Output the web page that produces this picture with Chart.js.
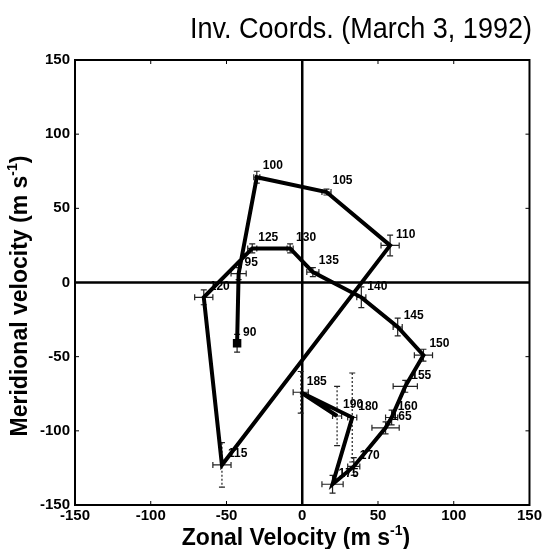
<!DOCTYPE html>
<html>
<head>
<meta charset="utf-8">
<script src="https://cdn.jsdelivr.net/npm/chart.js@4"></script>
<style>
  html, body { margin: 0; padding: 0; background: #fff; }
</style>
</head>
<body>
<canvas id="c" width="544" height="549"></canvas>
<script>
// time labels of each hodograph point
const times = [90, 95, 100, 105, 110, 115, 120, 125, 130, 135, 140, 145, 150, 155, 160, 165, 170, 175, 180, 185, 190];
// zonal (u) and meridional (v) velocity, m/s
const zonal = [-43, -42, -30, 16, 58, -53, -65, -33, -8, 7, 39, 63, 80, 68, 59, 55, 34, 20, 33, -1, 23];
const merid = [-41, 6, 71, 61, 25, -123, -10, 23, 23, 7, -10, -30, -49, -70, -91, -98, -124, -136, -91, -74, -90];
// error bars (half widths)
const zonalErr = [1, 5, 2, 3, 6, 6, 6, 3, 2, 4, 3, 3, 6, 8, 4, 9, 4, 7, 3, 5, 3];
const meridErr = [6, 4, 4, 2, 7, 15, 5, 3, 3, 3, 7, 6, 4, 4, 5, 4, 6, 6, 30, 14, 20];
// axis ticks
const tickValues = [-150, -100, -50, 0, 50, 100, 150];

const FONT = "'Liberation Sans', Arial, Helvetica, sans-serif";

// frame, zero lines and inward tick marks
const framePlugin = {
  id: "frame",
  beforeDatasetsDraw(chart) {
    const { ctx, chartArea: a, scales } = chart;
    ctx.save();
    ctx.strokeStyle = "#000";
    // zero lines
    ctx.lineWidth = 2.5;
    const x0 = scales.x.getPixelForValue(0);
    const y0 = scales.y.getPixelForValue(0);
    ctx.beginPath();
    ctx.moveTo(x0, a.top); ctx.lineTo(x0, a.bottom);
    ctx.moveTo(a.left, y0); ctx.lineTo(a.right, y0);
    ctx.stroke();
    // tick marks
    ctx.lineWidth = 1;
    ctx.beginPath();
    tickValues.forEach((v) => {
      const px = scales.x.getPixelForValue(v);
      const py = scales.y.getPixelForValue(v);
      ctx.moveTo(px, a.bottom); ctx.lineTo(px, a.bottom - 4);
      ctx.moveTo(px, a.top); ctx.lineTo(px, a.top + 4);
      ctx.moveTo(a.left, py); ctx.lineTo(a.left + 4, py);
      ctx.moveTo(a.right, py); ctx.lineTo(a.right - 4, py);
    });
    ctx.stroke();
    // box
    ctx.lineWidth = 2;
    ctx.strokeRect(a.left, a.top, a.right - a.left, a.bottom - a.top);
    ctx.restore();
  },
};

// x / y error bars with caps
const errorBarPlugin = {
  id: "errorBars",
  beforeDatasetsDraw(chart) {
    const { ctx, scales } = chart;
    const cap = 3;
    ctx.save();
    ctx.strokeStyle = "#222";
    ctx.lineWidth = 1.2;
    times.forEach((t, i) => {
      const px = scales.x.getPixelForValue(zonal[i]);
      const py = scales.y.getPixelForValue(merid[i]);
      const xl = scales.x.getPixelForValue(zonal[i] - zonalErr[i]);
      const xr = scales.x.getPixelForValue(zonal[i] + zonalErr[i]);
      const yt = scales.y.getPixelForValue(merid[i] + meridErr[i]);
      const yb = scales.y.getPixelForValue(merid[i] - meridErr[i]);
      ctx.setLineDash(zonalErr[i] >= 12 ? [2, 2] : []);
      ctx.beginPath();
      ctx.moveTo(xl, py); ctx.lineTo(xr, py);
      ctx.moveTo(xl, py - cap); ctx.lineTo(xl, py + cap);
      ctx.moveTo(xr, py - cap); ctx.lineTo(xr, py + cap);
      ctx.stroke();
      ctx.setLineDash(meridErr[i] >= 12 ? [2, 2] : []);
      ctx.beginPath();
      ctx.moveTo(px, yt); ctx.lineTo(px, yb);
      ctx.stroke();
      ctx.setLineDash([]);
      ctx.beginPath();
      ctx.moveTo(px - cap, yt); ctx.lineTo(px + cap, yt);
      ctx.moveTo(px - cap, yb); ctx.lineTo(px + cap, yb);
      ctx.stroke();
    });
    ctx.restore();
  },
};

// time labels next to points
const timeLabelPlugin = {
  id: "timeLabels",
  afterDatasetsDraw(chart) {
    const { ctx, scales } = chart;
    ctx.save();
    ctx.fillStyle = "#000";
    ctx.font = "bold 12px " + FONT;
    ctx.textAlign = "left";
    ctx.textBaseline = "middle";
    times.forEach((t, i) => {
      const px = scales.x.getPixelForValue(zonal[i]);
      const py = scales.y.getPixelForValue(merid[i]);
      ctx.fillText(String(t), px + 6, py - 11);
    });
    ctx.restore();
  },
};

// draw text with a superscript part: parts = [[text, isSup], ...]
function drawParts(ctx, parts, size, cx, cy) {
  const big = "bold " + size + "px " + FONT;
  const small = "bold " + Math.round(size * 0.6) + "px " + FONT;
  let w = 0;
  parts.forEach(([s, sup]) => { ctx.font = sup ? small : big; w += ctx.measureText(s).width; });
  let x = cx - w / 2;
  ctx.textAlign = "left";
  ctx.textBaseline = "middle";
  parts.forEach(([s, sup]) => {
    ctx.font = sup ? small : big;
    ctx.fillText(s, x, sup ? cy - size * 0.35 : cy);
    x += ctx.measureText(s).width;
  });
}

const titlesPlugin = {
  id: "titles",
  afterDraw(chart) {
    const { ctx } = chart;
    ctx.save();
    ctx.fillStyle = "#000";
    ctx.font = "29px " + FONT;
    ctx.textAlign = "center";
    ctx.textBaseline = "middle";
    ctx.fillText("Inv. Coords. (March 3, 1992)", 361, 30, 342);
    drawParts(ctx, [["Zonal Velocity (m s", false], ["-1", true], [")", false]], 23, 296, 539);
    ctx.translate(21, 296);
    ctx.rotate(-Math.PI / 2);
    drawParts(ctx, [["Meridional velocity (m s", false], ["-1", true], [")", false]], 23, 0, 0);
    ctx.restore();
  },
};

const points = times.map((t, i) => ({ x: zonal[i], y: merid[i] }));

new Chart(document.getElementById("c").getContext("2d"), {
  type: "scatter",
  data: {
    datasets: [
      {
        data: points,
        showLine: true,
        borderColor: "#000",
        borderWidth: 4,
        borderJoinStyle: "miter",
        tension: 0,
        pointStyle: "rect",
        pointRadius: times.map((t, i) => (i === 0 ? 6 : 0)),
        pointBackgroundColor: "#000",
        pointBorderColor: "#000",
        pointBorderWidth: 0,
      },
    ],
  },
  options: {
    responsive: false,
    animation: false,
    layout: { padding: { top: 60, right: 13, left: 0, bottom: 0 } },
    plugins: {
      legend: { display: false },
      tooltip: { enabled: false },
      title: { display: false },
    },
    scales: {
      x: {
        type: "linear",
        min: -150,
        max: 150,
        afterBuildTicks: (s) => { s.ticks = tickValues.map((v) => ({ value: v })); },
        afterFit: (s) => { s.height = 44; },
        grid: { display: false, drawTicks: false },
        border: { display: false },
        ticks: { color: "#000", font: { family: FONT, size: 15, weight: "bold" }, padding: 2, maxRotation: 0 },
      },
      y: {
        type: "linear",
        min: -150,
        max: 150,
        afterBuildTicks: (s) => { s.ticks = tickValues.map((v) => ({ value: v })); },
        afterFit: (s) => { s.width = 75; },
        grid: { display: false, drawTicks: false },
        border: { display: false },
        ticks: { color: "#000", font: { family: FONT, size: 15, weight: "bold" }, padding: 5 },
      },
    },
  },
  plugins: [framePlugin, errorBarPlugin, timeLabelPlugin, titlesPlugin],
});
</script>
</body>
</html>
